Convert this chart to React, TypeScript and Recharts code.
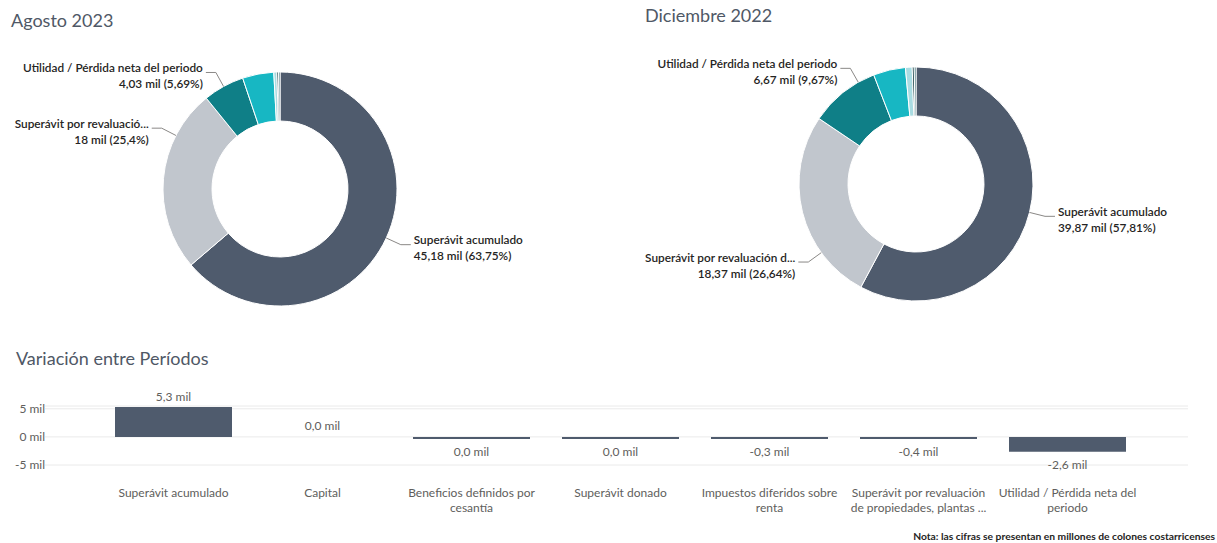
import React from 'react';
import { PieChart, Pie, Cell, BarChart, Bar, XAxis, YAxis, CartesianGrid, LabelList } from 'recharts';

const categories = [
  'Superávit acumulado',
  'Superávit por revaluación de propiedades, plantas y equipos',
  'Utilidad / Pérdida neta del periodo',
  'Capital',
  'Impuestos diferidos sobre renta',
  'Beneficios definidos por cesantía',
  'Superávit donado',
];
const sliceColors = ['#4F5B6D', '#C1C6CD', '#0F7F87', '#17B7C3', '#A9DCE2', '#0D3A40', '#1E5A62'];

// en millones de colones (mil = miles de millones)
const agosto2023 = [45.18, 18, 4.03, 3.06, 0.3, 0.16, 0.14];
const diciembre2022 = [39.87, 18.37, 6.67, 3.06, 0.64, 0.19, 0.165];

const barCategories = [
  'Superávit acumulado',
  'Capital',
  'Beneficios definidos por cesantía',
  'Superávit donado',
  'Impuestos diferidos sobre renta',
  'Superávit por revaluación de propiedades, plantas y equipos',
  'Utilidad / Pérdida neta del periodo',
];
const variacion = [5.31, 0, -0.03, -0.03, -0.34, -0.37, -2.64];
const yTicks = [-5, 0, 5];

const FONT = 'Lato, "Noto Sans", sans-serif';
const GREY = '#605E5C';

const fmtNum = (v: number) => {
  const s = v.toFixed(2).replace(/\.?0+$/, '');
  return s.replace('.', ',');
};

const clip = (s: string, n: number) => (s.length > n ? s.slice(0, n) + '...' : s);

let ctx: CanvasRenderingContext2D | null = null;
const measure = (s: string, font: string) => {
  if (!ctx) ctx = document.createElement('canvas').getContext('2d');
  if (!ctx) return s.length * 6;
  ctx.font = font;
  return ctx.measureText(s).width;
};

// greedy word wrap with " ..." when it runs past maxLines
function wrap(text: string, width: number, font: string, maxLines: number) {
  const words = text.split(' ');
  const lines: string[] = [];
  let cur = '';
  for (let i = 0; i < words.length; i++) {
    const test = cur ? cur + ' ' + words[i] : words[i];
    if (measure(test, font) <= width || !cur) {
      cur = test;
    } else {
      lines.push(cur);
      cur = words[i];
      if (lines.length === maxLines) break;
    }
  }
  if (lines.length < maxLines) {
    lines.push(cur);
    return lines;
  }
  // truncated: rebuild last line so that it fits with the ellipsis
  const last = lines[maxLines - 1].split(' ');
  while (last.length > 1 && measure(last.join(' ') + ' ...', font) > width) last.pop();
  lines[maxLines - 1] = last.join(' ') + ' ...';
  return lines;
}

// label placement tweaks (degrees added to midAngle), only slices with labels
function makeLabel(shifts: Record<number, number>, clipIndex: number, maxChars: number) {
  return (props: any) => {
    const { cx, cy, midAngle, outerRadius, index, value, percent, name } = props;
    if (!(index in shifts)) return null;
    const RAD = Math.PI / 180;
    const a = (midAngle + shifts[index]) * RAD;
    const cos = Math.cos(-a);
    const sin = Math.sin(-a);
    const x0 = cx + outerRadius * cos;
    const y0 = cy + outerRadius * sin;
    const x1 = cx + (outerRadius + 16) * cos;
    const y1 = cy + (outerRadius + 16) * sin;
    const right = cos >= 0;
    const x2 = x1 + (right ? 10 : -10);
    const tx = x2 + (right ? 3 : -3);
    const anchor = right ? 'start' : 'end';
    const pct = fmtNum(percent * 100);
    const label = index === clipIndex ? clip(name, maxChars) : name;
    return (
      <g>
        <polyline points={`${x0},${y0} ${x1},${y1} ${x2},${y1}`} fill="none" stroke="#8A8886" strokeWidth={1} />
        <text x={tx} y={y1 - 5} textAnchor={anchor} dominantBaseline="central" fontSize={11.8} fontWeight={600} fill="#252423" fontFamily={FONT}>
          {label}
        </text>
        <text x={tx} y={y1 + 11} textAnchor={anchor} dominantBaseline="central" fontSize={11.8} fontWeight={600} fill="#252423" fontFamily={FONT}>
          {`${fmtNum(value)} mil (${pct}%)`}
        </text>
      </g>
    );
  };
}

function Donut({ values, shifts, maxChars, cx, cy }: { values: number[]; shifts: Record<number, number>; maxChars: number; cx: number; cy: number }) {
  const data = categories.map((name, i) => ({ name, value: values[i] }));
  return (
    <PieChart width={600} height={330} margin={{ top: 0, right: 0, bottom: 0, left: 0 }}>
      <Pie
        data={data}
        dataKey="value"
        nameKey="name"
        cx={cx}
        cy={cy}
        innerRadius={68}
        outerRadius={117}
        startAngle={90}
        endAngle={-270}
        stroke="#fff"
        strokeWidth={1}
        label={makeLabel(shifts, 1, maxChars)}
        labelLine={false}
        isAnimationActive={false}
      >
        {data.map((d, i) => (
          <Cell key={d.name} fill={sliceColors[i]} />
        ))}
      </Pie>
    </PieChart>
  );
}

const XTick = (props: any) => {
  const { x, y, payload } = props;
  const lines = wrap(String(payload.value), 142, '12px Lato', 2);
  return (
    <text x={x} y={y} textAnchor="middle" fontSize={12} fill={GREY} fontFamily={FONT}>
      {lines.map((l, i) => (
        <tspan key={i} x={x} y={y + 32 + i * 15}>
          {l}
        </tspan>
      ))}
    </text>
  );
};

const BarValueLabel = (props: any) => {
  const { x, y, width, height, value } = props;
  const top = Math.min(y, y + height);
  const bottom = Math.max(y, y + height);
  const ty = value >= 0 ? top - 11 : bottom + 13;
  const txt = (Math.abs(value) < 0.05 ? '0.0' : value.toFixed(1)).replace('.', ',') + ' mil';
  return (
    <text x={x + width / 2} y={ty} textAnchor="middle" dominantBaseline="central" fontSize={12} fill={GREY} fontFamily={FONT}>
      {txt}
    </text>
  );
};

const titleStyle: React.CSSProperties = {
  position: 'absolute',
  fontFamily: FONT,
  fontSize: 18,
  color: '#4F5866',
  lineHeight: '22px',
  whiteSpace: 'nowrap',
};

export default function App() {
  const barData = barCategories.map((name, i) => ({ name, value: variacion[i] }));
  return (
    <div style={{ position: 'absolute', left: 0, top: 0, width: 1217, height: 543, background: '#fff', overflow: 'hidden', fontFamily: FONT }}>
      <div style={{ ...titleStyle, left: 11, top: 9 }}>Agosto 2023</div>
      <div style={{ ...titleStyle, left: 645, top: 4 }}>Diciembre 2022</div>
      <div style={{ position: 'absolute', left: 0, top: 0 }}>
        <Donut values={agosto2023} shifts={{ 0: 0, 1: -22, 2: 0 }} maxChars={24} cx={280} cy={189} />
      </div>
      <div style={{ position: 'absolute', left: 610, top: 0 }}>
        <Donut values={diciembre2022} shifts={{ 0: 0, 1: 22, 2: -9 }} maxChars={27} cx={306} cy={184} />
      </div>
      <div style={{ ...titleStyle, left: 16, top: 347 }}>Variación entre Períodos</div>
      <div style={{ position: 'absolute', left: 0, top: 370 }}>
        <BarChart width={1217} height={160} data={barData} margin={{ top: 36, right: 29, bottom: 15, left: 0 }}>
          <CartesianGrid vertical={false} stroke="#EAEAEA" />
          <XAxis
            dataKey="name"
            axisLine={false}
            tickLine={false}
            tickSize={0}
            tickMargin={0}
            height={50}
            interval={0}
            padding={{ left: 54, right: 46 }}
            tick={<XTick />}
          />
          <YAxis
            width={45}
            domain={[-5, 5.5]}
            ticks={yTicks}
            allowDataOverflow
            axisLine={false}
            tickLine={false}
            tickSize={0}
            tickMargin={0}
            tickFormatter={(v: number) => `${v} mil`}
            tick={{ fontSize: 12, fill: GREY, fontFamily: FONT }}
          />
          <Bar dataKey="value" fill="#4F5B6D" barSize={117} minPointSize={(v: number) => (v === 0 ? 0.01 : 2)} isAnimationActive={false}>
            <LabelList dataKey="value" content={<BarValueLabel />} />
          </Bar>
        </BarChart>
      </div>
      <div style={{ position: 'absolute', right: 2, top: 530, fontSize: 10.3, lineHeight: '13px', fontWeight: 700, color: '#252423', whiteSpace: 'nowrap' }}>
        Nota: las cifras se presentan en millones de colones costarricenses
      </div>
    </div>
  );
}
